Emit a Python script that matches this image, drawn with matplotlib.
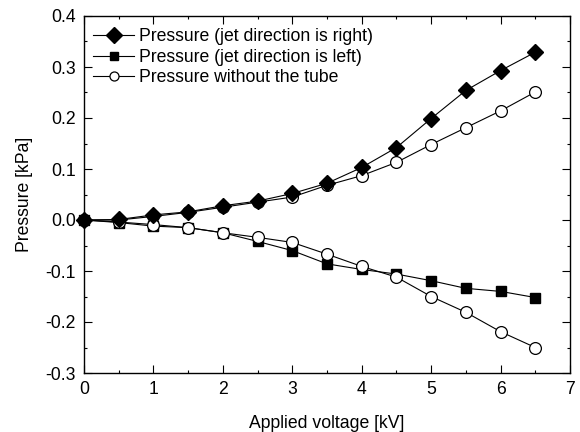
import matplotlib
matplotlib.use("Agg")
import matplotlib.pyplot as plt
from matplotlib.ticker import MultipleLocator
from matplotlib.lines import Line2D

plt.rcParams['font.family'] = ['Liberation Sans', 'DejaVu Sans']

voltage = [0, 0.5, 1, 1.5, 2, 2.5, 3, 3.5, 4, 4.5, 5, 5.5, 6, 6.5]
p_right = [0, 0.001, 0.010, 0.016, 0.028, 0.037, 0.052, 0.072, 0.103, 0.142, 0.199, 0.254, 0.293, 0.329]
p_left = [0, -0.005, -0.012, -0.015, -0.025, -0.042, -0.060, -0.086, -0.097, -0.106, -0.119, -0.134, -0.140, -0.152]
p_none_pos = [0, 0.0, 0.007, 0.015, 0.025, 0.035, 0.045, 0.068, 0.087, 0.113, 0.148, 0.181, 0.214, 0.251]
p_none_neg = [0, -0.004, -0.009, -0.015, -0.025, -0.034, -0.044, -0.067, -0.091, -0.112, -0.150, -0.181, -0.219, -0.250]

labels = ["Pressure (jet direction is right)", "Pressure (jet direction is left)", "Pressure without the tube"]

FS = 12.7
fig = plt.figure(figsize=(5.8, 4.32), dpi=100)
ax = fig.add_axes([84/580, 1 - 373/432, (570-84)/580, (373-16)/432])

lw = 0.8
ax.plot(voltage, p_left, '-', color='black', lw=lw, marker='s', ms=7.5,
        mfc='black', mec='black', clip_on=False, zorder=3)
ax.plot(voltage, p_none_pos, '-', color='black', lw=lw, marker='o', ms=8.5,
        mfc='white', mec='black', mew=0.9, clip_on=False, zorder=4)
ax.plot(voltage, p_none_neg, '-', color='black', lw=lw, marker='o', ms=8.5,
        mfc='white', mec='black', mew=0.9, clip_on=False, zorder=4)
ax.plot(voltage, p_right, '-', color='black', lw=lw, marker='D', ms=8.5,
        mfc='black', mec='black', clip_on=False, zorder=5)

ax.set_xlim(0, 7)
ax.set_ylim(-0.3, 0.4)
ax.xaxis.set_major_locator(MultipleLocator(1))
ax.xaxis.set_minor_locator(MultipleLocator(0.5))
ax.yaxis.set_minor_locator(MultipleLocator(0.05))
ax.set_yticks([-0.3, -0.2, -0.1, 0.0, 0.1, 0.2, 0.3, 0.4])
ax.set_yticklabels(['-0.3', '-0.2', '-0.1', '0.0', '0.1', '0.2', '0.3', '0.4'])
ax.tick_params(which='both', direction='in', top=True, right=True, labelsize=FS, width=0.8, pad=6)
ax.tick_params(which='major', length=5.5)
ax.tick_params(which='minor', length=2.5)
for s in ax.spines.values():
    s.set_linewidth(1.0)

ax.set_xlabel("Applied voltage [kV]", fontsize=FS, labelpad=12)
ax.set_ylabel("Pressure [kPa]", fontsize=FS, labelpad=8.5)

h1 = Line2D([], [], color='black', lw=lw, marker='D', ms=8.5, mfc='black', mec='black')
h2 = Line2D([], [], color='black', lw=lw, marker='s', ms=5.5, mfc='black', mec='black')
h3 = Line2D([], [], color='black', lw=lw, marker='o', ms=6.5, mfc='white', mec='black', mew=0.9)
ax.legend([h1, h2, h3], labels, loc='upper left', frameon=False, fontsize=FS,
          handlelength=2.3, handletextpad=0.3, labelspacing=0.2,
          borderaxespad=0.0, bbox_to_anchor=(0.005, 0.985))

fig.savefig("out.png", dpi=100)
